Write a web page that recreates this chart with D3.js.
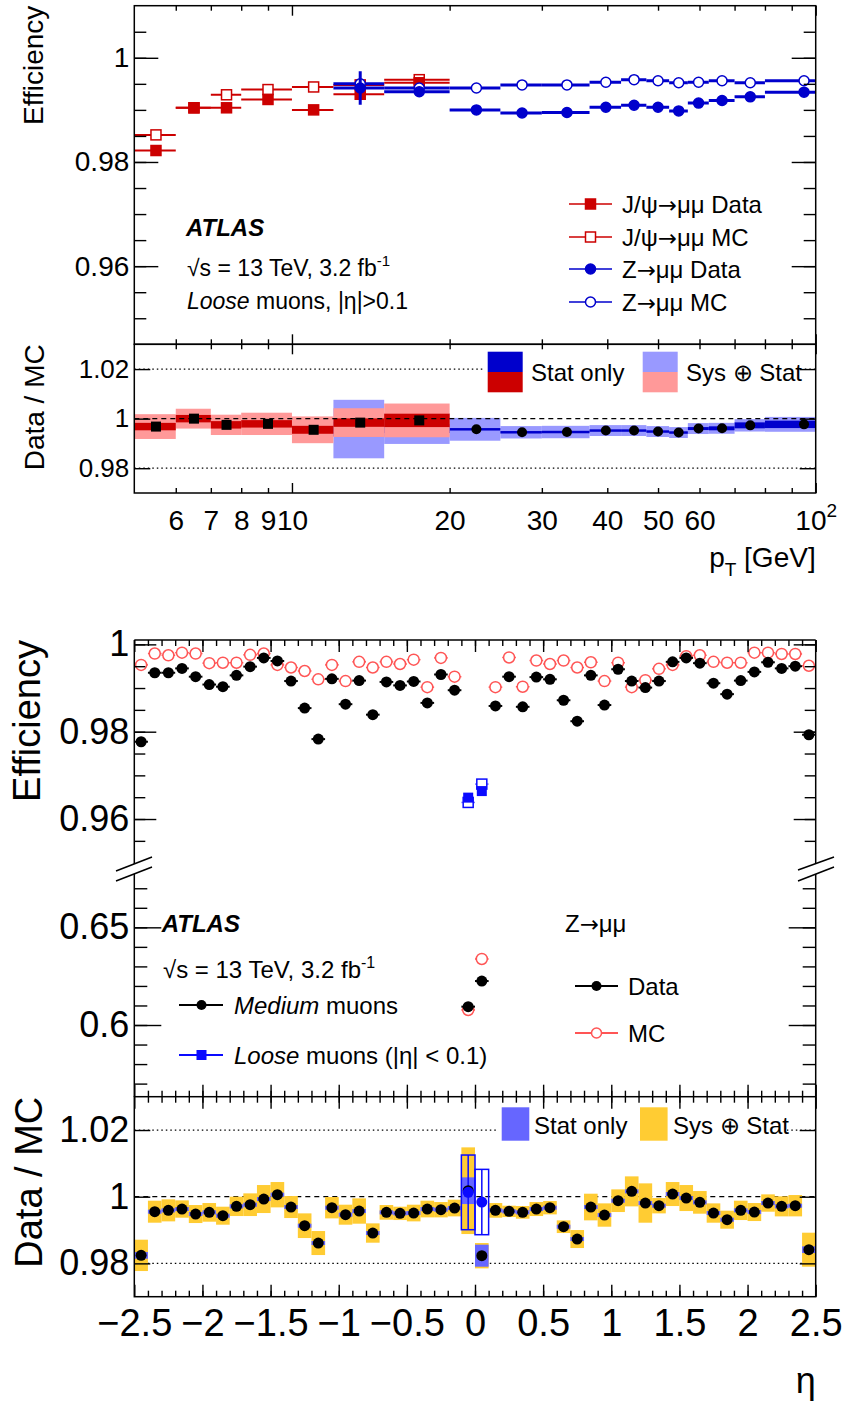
<!doctype html>
<html>
<head>
<meta charset="utf-8">
<script src="https://d3js.org/d3.v7.min.js"></script>
<style>
  body { margin: 0; background: #fff; }
  svg text { font-family: "Liberation Sans", Arial, Helvetica, sans-serif; fill: #000; }
</style>
</head>
<body>
<svg width="844" height="1407"></svg>
<script>
// ---------------- top figure: efficiency vs pT ----------------
var jpsiLo    = [5, 6, 7, 8, 10, 12, 15];
var jpsiHi    = [6, 7, 8, 10, 12, 15, 20];
var jpsiData  = [0.9822, 0.9904, 0.9904, 0.9920, 0.9900, 0.9930, 0.9952];
var jpsiDataE = [0.0004, 0.0004, 0.0004, 0.0003, 0.0004, 0.0006, 0.0004];
var jpsiMC    = [0.9852, 0.9904, 0.9929, 0.9939, 0.9944, 0.9948, 0.9958];
var jpsiRatio = [0.9968, 1.0000, 0.9975, 0.9979, 0.9955, 0.9984, 0.9993];
var jpsiStat  = [0.0015, 0.0015, 0.0015, 0.0015, 0.0016, 0.0017, 0.0027];
var jpsiSys   = [0.0050, 0.0040, 0.0041, 0.0045, 0.0054, 0.0058, 0.0068];

var zLo    = [12, 15, 20, 25, 30, 37, 42.5, 47.5, 52.5, 57, 62.5, 70, 80];
var zHi    = [15, 20, 25, 30, 37, 42.5, 47.5, 52.5, 57, 62.5, 70, 80, 110];
var zData  = [0.9942, 0.9935, 0.9900, 0.9894, 0.9895, 0.9905, 0.9909, 0.9905, 0.9898, 0.9913, 0.9918, 0.9925, 0.9934];
var zDataE = [0.0032, 0.0006, 0.0003, 0.0003, 0.0003, 0.0003, 0.0003, 0.0003, 0.0003, 0.0003, 0.0003, 0.0003, 0.0004];
var zMC    = [0.9950, 0.9942, 0.9942, 0.9948, 0.9948, 0.9953, 0.9958, 0.9956, 0.9952, 0.9953, 0.9956, 0.9952, 0.9956];
var zRatio = [0.9958, 0.9960, 0.9957, 0.9945, 0.9946, 0.9952, 0.9952, 0.9948, 0.9944, 0.9960, 0.9961, 0.9973, 0.9977];
var zStat  = [0.0030, 0.0018, 0.0005, 0.0005, 0.0005, 0.0005, 0.0005, 0.0005, 0.0005, 0.0006, 0.0008, 0.0012, 0.0015];
var zSys   = [0.0118, 0.0062, 0.0046, 0.0025, 0.0025, 0.0022, 0.0022, 0.0022, 0.0022, 0.0022, 0.0022, 0.0025, 0.0030];

var ptLabels      = [6, 7, 8, 9, 10, 20, 30, 40, 50, 60, 100];
var effTopLabels  = [0.96, 0.98, 1];
var ratioLabels   = [0.98, 1, 1.02];

// ---------------- bottom figure: efficiency vs eta ----------------
var etaBins = [-2.45, -2.35, -2.25, -2.15, -2.05, -1.95, -1.85, -1.75, -1.65, -1.55,
               -1.45, -1.35, -1.25, -1.15, -1.05, -0.95, -0.85, -0.75, -0.65, -0.55,
               -0.45, -0.35, -0.25, -0.15, -0.05, 0.05, 0.15, 0.25, 0.35, 0.45,
               0.55, 0.65, 0.75, 0.85, 0.95, 1.05, 1.15, 1.25, 1.35, 1.45,
               1.55, 1.65, 1.75, 1.85, 1.95, 2.05, 2.15, 2.25, 2.35, 2.45];
var medData = [0.9777, 0.9935, 0.9935, 0.9945, 0.9926, 0.9908, 0.9903, 0.9929, 0.9949, 0.9969,
               0.9962, 0.9916, 0.9854, 0.9783, 0.9921, 0.9863, 0.9917, 0.9839, 0.9914, 0.9906,
               0.9915, 0.9866, 0.9931, 0.9895, 0.6094, 0.6225, 0.9859, 0.9926, 0.9857, 0.9925,
               0.9920, 0.9872, 0.9824, 0.9929, 0.9861, 0.9943, 0.9916, 0.9901, 0.9916, 0.9960,
               0.9969, 0.9957, 0.9911, 0.9886, 0.9917, 0.9937, 0.9959, 0.9945, 0.9950, 0.9793];
var medMC   = [0.9953, 0.9979, 0.9975, 0.9981, 0.9979, 0.9957, 0.9958, 0.9958, 0.9976, 0.9979,
               0.9953, 0.9947, 0.9939, 0.9920, 0.9953, 0.9916, 0.9960, 0.9947, 0.9960, 0.9955,
               0.9965, 0.9902, 0.9969, 0.9926, 0.6077, 0.6338, 0.9902, 0.9970, 0.9903, 0.9963,
               0.9955, 0.9963, 0.9947, 0.9959, 0.9916, 0.9958, 0.9902, 0.9918, 0.9944, 0.9953,
               0.9973, 0.9975, 0.9960, 0.9958, 0.9958, 0.9981, 0.9981, 0.9978, 0.9978, 0.9951];
var medRatio = [0.9824, 0.9955, 0.9959, 0.9963, 0.9948, 0.9953, 0.9943, 0.9971, 0.9976, 0.9993,
                1.0006, 0.9969, 0.9913, 0.9861, 0.9967, 0.9946, 0.9957, 0.9891, 0.9953, 0.9950,
                0.9951, 0.9963, 0.9961, 0.9966, 1.0018, 0.9823, 0.9959, 0.9956, 0.9953, 0.9963,
                0.9967, 0.9910, 0.9873, 0.9969, 0.9945, 0.9988, 1.0016, 0.9981, 0.9973, 1.0008,
                0.9996, 0.9983, 0.9951, 0.9931, 0.9959, 0.9954, 0.9981, 0.9971, 0.9973, 0.9841];
var medSys  = [0.0047, 0.0033, 0.0033, 0.0026, 0.0027, 0.0028, 0.0027, 0.0029, 0.0034, 0.0042,
               0.0038, 0.0033, 0.0037, 0.0036, 0.0032, 0.0030, 0.0038, 0.0029, 0.0022, 0.0020,
               0.0025, 0.0025, 0.0023, 0.0025, 0.0130, 0.0038, 0.0022, 0.0017, 0.0019, 0.0021,
               0.0020, 0.0019, 0.0027, 0.0040, 0.0035, 0.0034, 0.0045, 0.0059, 0.0023, 0.0036,
               0.0039, 0.0034, 0.0029, 0.0027, 0.0029, 0.0027, 0.0026, 0.0030, 0.0032, 0.0051];
var medStat = [0.0010, 0.0006, 0.0006, 0.0006, 0.0006, 0.0006, 0.0006, 0.0006, 0.0006, 0.0006,
               0.0006, 0.0006, 0.0006, 0.0006, 0.0006, 0.0006, 0.0006, 0.0006, 0.0006, 0.0006,
               0.0006, 0.0006, 0.0006, 0.0006, 0.0040, 0.0033, 0.0006, 0.0006, 0.0006, 0.0006,
               0.0006, 0.0006, 0.0006, 0.0006, 0.0006, 0.0006, 0.0006, 0.0006, 0.0006, 0.0006,
               0.0006, 0.0006, 0.0006, 0.0006, 0.0006, 0.0006, 0.0006, 0.0006, 0.0006, 0.0010];

var looseEta   = [-0.05, 0.05];
var looseData  = [0.9649, 0.9664];
var looseMC    = [0.9638, 0.9680];
var looseRatio = [1.0013, 0.9984];
var looseSys   = [0.0112, 0.0098];

var etaLabels    = [-2.5, -2, -1.5, -1, -0.5, 0, 0.5, 1, 1.5, 2, 2.5];
var effUpLabels  = [0.96, 0.98, 1];
var effLowLabels = [0.6, 0.65];

// ---------------------------------------------------------------
var svg = d3.select("svg");
var L = 134.3, R = 815.7;
var fmt = d3.format("~g");

function ticks(axisFn, scale, vals, len, tx, ty) {
    svg.append("g")
       .attr("transform", "translate(" + tx + "," + ty + ")")
       .call(axisFn(scale).tickValues(vals).tickSize(-len).tickFormat(""))
       .call(function(g) { g.select(".domain").remove(); })
       .selectAll("line").attr("stroke", "#000").attr("stroke-width", 1.4);
}
function labels(axisFn, scale, vals, size, pad, tx, ty, f) {
    var g = svg.append("g")
       .attr("transform", "translate(" + tx + "," + ty + ")")
       .call(axisFn(scale).tickValues(vals).tickSize(0).tickPadding(pad).tickFormat(f || fmt));
    g.select(".domain").remove();
    g.attr("font-size", size);
    return g;
}
function hline(g, x1, x2, y, color, w, dash) {
    g.append("line").attr("x1", x1).attr("x2", x2).attr("y1", y).attr("y2", y)
     .attr("stroke", color).attr("stroke-width", w).attr("stroke-dasharray", dash || null);
}
function vline(g, x, y1, y2, color, w) {
    g.append("line").attr("x1", x).attr("x2", x).attr("y1", y1).attr("y2", y2)
     .attr("stroke", color).attr("stroke-width", w);
}
// text like "J/ψ→μμ Data": the arrow comes from DejaVu, which draws it long like TLatex
function arrowText(t, before, after) {
    t.append("tspan").text(before);
    t.append("tspan").attr("font-family", "DejaVu Sans").attr("font-size", "0.95em").text("\u2192");
    t.append("tspan").text(after);
}

var defs = svg.append("defs");
function clip(id, x, y, w, h) {
    defs.append("clipPath").attr("id", id).append("rect")
        .attr("x", x).attr("y", y).attr("width", w).attr("height", h);
    return svg.append("g").attr("clip-path", "url(#" + id + ")");
}

// ================= TOP FIGURE =================
var xPt  = d3.scaleLog().domain([5, 100]).range([L, R]);
var yEff = d3.scaleLinear().domain([0.945, 1.01]).range([344.3, 5.7]);
var yRat = d3.scaleLinear().domain([0.97, 1.03]).range([493, 344.3]);

var jRed = "#cc0000", zBlue = "#0000cc";
var jMid = jpsiLo.map(function(d, i) { return (d + jpsiHi[i]) / 2; });
var zMid = zLo.map(function(d, i) { return (d + zHi[i]) / 2; });

// main pad
var gMain = clip("clipMain", L, 5.7, R - L, 338.6);

function pointsPt(g, lo, hi, mid, vals, errs, color, w, shape, filled, ys) {
    vals.forEach(function(v, i) {
        hline(g, xPt(lo[i]), xPt(hi[i]), ys(v), color, w);
        if (errs) vline(g, xPt(mid[i]), ys(v + errs[i]), ys(v - errs[i]), color, w);
    });
    if (shape === "square") {
        g.selectAll(null).data(vals).enter().append("rect")
         .attr("x", function(d, i) { return xPt(mid[i]) - 5; })
         .attr("y", function(d) { return ys(d) - 5; })
         .attr("width", 10).attr("height", 10)
         .attr("fill", filled ? color : "#fff")
         .attr("stroke", color).attr("stroke-width", 1.5);
    } else {
        g.selectAll(null).data(vals).enter().append("circle")
         .attr("cx", function(d, i) { return xPt(mid[i]); })
         .attr("cy", function(d) { return ys(d); })
         .attr("r", 5)
         .attr("fill", filled ? color : "#fff")
         .attr("stroke", color).attr("stroke-width", 1.5);
    }
}
pointsPt(gMain, jpsiLo, jpsiHi, jMid, jpsiMC, null, jRed, 2, "square", false, yEff);
pointsPt(gMain, jpsiLo, jpsiHi, jMid, jpsiData, jpsiDataE, jRed, 2, "square", true, yEff);
pointsPt(gMain, zLo, zHi, zMid, zMC, null, zBlue, 3, "circle", false, yEff);
pointsPt(gMain, zLo, zHi, zMid, zData, zDataE, zBlue, 3, "circle", true, yEff);

// ratio pad
var gRat = clip("clipRat", L, 344.3, R - L, 148.7);
[0.98, 1.02].forEach(function(v) { hline(gRat, L, R, yRat(v), "#000", 1.2, "1.5,3"); });

function bands(g, lo, hi, r, e, color) {
    g.selectAll(null).data(r).enter().append("rect")
     .attr("x", function(d, i) { return xPt(lo[i]); })
     .attr("width", function(d, i) { return xPt(hi[i]) - xPt(lo[i]); })
     .attr("y", function(d, i) { return yRat(d + e[i]); })
     .attr("height", function(d, i) { return yRat(d - e[i]) - yRat(d + e[i]); })
     .attr("fill", color);
}
bands(gRat, zLo, zHi, zRatio, zSys, "#9999ff");
bands(gRat, zLo, zHi, zRatio, zStat, "#0000cc");
gRat.selectAll(null).data(zRatio).enter().append("circle")
    .attr("cx", function(d, i) { return xPt(zMid[i]); })
    .attr("cy", function(d) { return yRat(d); })
    .attr("r", 5).attr("fill", "#000");
bands(gRat, jpsiLo, jpsiHi, jpsiRatio, jpsiSys, "#ff9999");
bands(gRat, jpsiLo, jpsiHi, jpsiRatio, jpsiStat, "#cc0000");
hline(gRat, L, R, yRat(1), "#000", 1.2, "5,4");
gRat.selectAll(null).data(jpsiRatio).enter().append("rect")
    .attr("x", function(d, i) { return xPt(jMid[i]) - 5; })
    .attr("y", function(d) { return yRat(d) - 5; })
    .attr("width", 10).attr("height", 10).attr("fill", "#000");

// ratio legend
var lg = svg.append("g");
lg.append("rect").attr("x", 484).attr("y", 346).attr("width", 320).attr("height", 48).attr("fill", "#fff");
lg.append("rect").attr("x", 487.7).attr("y", 351.7).attr("width", 35).attr("height", 20.3).attr("fill", "#0000cc");
lg.append("rect").attr("x", 487.7).attr("y", 372).attr("width", 35).attr("height", 20.3).attr("fill", "#cc0000");
lg.append("text").attr("x", 531).attr("y", 381).attr("font-size", 24).text("Stat only");
lg.append("rect").attr("x", 642.7).attr("y", 351.7).attr("width", 35).attr("height", 20.3).attr("fill", "#9999ff");
lg.append("rect").attr("x", 642.7).attr("y", 372).attr("width", 35).attr("height", 20.3).attr("fill", "#ff9999");
lg.append("text").attr("x", 686).attr("y", 381).attr("font-size", 24).text("Sys \u2295 Stat");

// frames and ticks (top figure)
svg.append("rect").attr("x", L).attr("y", 5.7).attr("width", R - L).attr("height", 338.6)
   .attr("fill", "none").attr("stroke", "#000").attr("stroke-width", 1.5);
svg.append("rect").attr("x", L).attr("y", 344.3).attr("width", R - L).attr("height", 148.7)
   .attr("fill", "none").attr("stroke", "#000").attr("stroke-width", 1.5);

var effMinor = d3.range(0.95, 1.0076, 0.005);
ticks(d3.axisLeft, yEff, effMinor, 12, L, 0);
ticks(d3.axisRight, yEff, effMinor, 12, R, 0);
ticks(d3.axisLeft, yEff, effTopLabels, 24, L, 0);
ticks(d3.axisRight, yEff, effTopLabels, 24, R, 0);
ticks(d3.axisLeft, yRat, ratioLabels, 16, L, 0);
ticks(d3.axisRight, yRat, ratioLabels, 16, R, 0);

var ptMinor = [6, 7, 8, 9, 20, 30, 40, 50, 60, 70, 80, 90];
[[d3.axisTop, 5.7], [d3.axisBottom, 344.3], [d3.axisTop, 344.3], [d3.axisBottom, 493]].forEach(function(a) {
    ticks(a[0], xPt, ptMinor, 5, 0, a[1]);
    ticks(a[0], xPt, [10, 100], 10, 0, a[1]);
});

labels(d3.axisLeft, yEff, effTopLabels, 28, 5, L, 0);
labels(d3.axisLeft, yRat, ratioLabels, 26, 5, L, 0);
var ptLab = labels(d3.axisBottom, xPt, ptLabels, 28, 17, 0, 493);
ptLab.selectAll("text").filter(function(d) { return d === 100; })
     .text("10").append("tspan").attr("dy", "-0.7em").attr("font-size", "0.68em").text("2");

svg.append("text").attr("transform", "translate(43,5.7) rotate(-90)")
   .attr("text-anchor", "end").attr("font-size", 28).text("Efficiency");
svg.append("text").attr("transform", "translate(44,344.3) rotate(-90)")
   .attr("text-anchor", "end").attr("font-size", 28).text("Data / MC");
var ptT = svg.append("text").attr("x", R).attr("y", 567).attr("text-anchor", "end").attr("font-size", 28);
ptT.append("tspan").text("p");
ptT.append("tspan").attr("dy", 9).attr("font-size", 19).text("T");
ptT.append("tspan").attr("dy", -9).text(" [GeV]");

// top texts
svg.append("text").attr("x", 186).attr("y", 236).attr("font-size", 24)
   .attr("font-weight", "bold").attr("font-style", "italic").text("ATLAS");
var s1 = svg.append("text").attr("x", 187).attr("y", 276).attr("font-size", 23);
s1.append("tspan").text("\u221As = 13 TeV, 3.2 fb");
s1.append("tspan").attr("dy", -10).attr("font-size", 15).text("-1");
var s2 = svg.append("text").attr("x", 187).attr("y", 309).attr("font-size", 23);
s2.append("tspan").attr("font-style", "italic").text("Loose");
s2.append("tspan").text(" muons, |\u03B7|>0.1");

// top legend
var legRows = [
    { y: 204, color: jRed, shape: "square", filled: true,  pre: "J/\u03C8", post: "\u03BC\u03BC Data" },
    { y: 237, color: jRed, shape: "square", filled: false, pre: "J/\u03C8", post: "\u03BC\u03BC MC" },
    { y: 269, color: zBlue, shape: "circle", filled: true,  pre: "Z", post: "\u03BC\u03BC Data" },
    { y: 302, color: zBlue, shape: "circle", filled: false, pre: "Z", post: "\u03BC\u03BC MC" }
];
legRows.forEach(function(r) {
    hline(svg, 569, 612, r.y, r.color, 1.5);
    if (r.shape === "square") {
        svg.append("rect").attr("x", 585.5).attr("y", r.y - 5).attr("width", 10).attr("height", 10)
           .attr("fill", r.filled ? r.color : "#fff").attr("stroke", r.color).attr("stroke-width", 1.5);
    } else {
        svg.append("circle").attr("cx", 590.5).attr("cy", r.y).attr("r", 5)
           .attr("fill", r.filled ? r.color : "#fff").attr("stroke", r.color).attr("stroke-width", 1.5);
    }
    arrowText(svg.append("text").attr("x", 622).attr("y", r.y + 9).attr("font-size", 24), r.pre, r.post);
});

// ================= BOTTOM FIGURE =================
var xEta  = d3.scaleLinear().domain([-2.5, 2.5]).range([L, R]);
var yUp   = d3.scaleLinear().domain([0.9497, 1.001]).range([864, 640]);
var yLow  = d3.scaleLinear().domain([0.5633, 0.6773]).range([1096.7, 874]);
var yRatB = d3.scaleLinear().domain([0.97, 1.03]).range([1296.7, 1096.7]);
function yE(v) { return v > 0.8 ? yUp(v) : yLow(v); }

var mcRed = "#ff5555", looseBlue = "#0a0aff";
var bw = 0.05;

var gEff = svg.append("g");
// MC (open red circles)
medMC.forEach(function(v, i) {
    hline(gEff, xEta(etaBins[i] - bw), xEta(etaBins[i] + bw), yE(v), mcRed, 1.5);
});
gEff.selectAll(null).data(medMC).enter().append("circle")
    .attr("cx", function(d, i) { return xEta(etaBins[i]); })
    .attr("cy", function(d) { return yE(d); })
    .attr("r", 5.5).attr("fill", "#fff").attr("stroke", mcRed).attr("stroke-width", 1.5);
// data (black)
medData.forEach(function(v, i) {
    hline(gEff, xEta(etaBins[i] - bw), xEta(etaBins[i] + bw), yE(v), "#000", 2);
});
gEff.selectAll(null).data(medData).enter().append("circle")
    .attr("cx", function(d, i) { return xEta(etaBins[i]); })
    .attr("cy", function(d) { return yE(d); })
    .attr("r", 5.5).attr("fill", "#000");
// loose (blue squares)
looseMC.forEach(function(v, i) {
    hline(gEff, xEta(looseEta[i] - bw), xEta(looseEta[i] + bw), yUp(v), "#7777ff", 1.5);
});
gEff.selectAll(null).data(looseMC).enter().append("rect")
    .attr("x", function(d, i) { return xEta(looseEta[i]) - 5; })
    .attr("y", function(d) { return yUp(d) - 5; })
    .attr("width", 10).attr("height", 10)
    .attr("fill", "#fff").attr("stroke", looseBlue).attr("stroke-width", 1.5);
gEff.selectAll(null).data(looseData).enter().append("rect")
    .attr("x", function(d, i) { return xEta(looseEta[i]) - 5; })
    .attr("y", function(d) { return yUp(d) - 5; })
    .attr("width", 10).attr("height", 10).attr("fill", looseBlue);

// ratio pad
var gRB = svg.append("g");
[0.98, 1.02].forEach(function(v) { hline(gRB, L, R, yRatB(v), "#000", 1.2, "1.5,3"); });
hline(gRB, L, R, yRatB(1), "#000", 1.2, "5,4");
function etaBoxes(g, eta, r, e, fill, stroke) {
    g.selectAll(null).data(r).enter().append("rect")
     .attr("x", function(d, i) { return xEta(eta[i] - bw); })
     .attr("width", function(d, i) { return xEta(eta[i] + bw) - xEta(eta[i] - bw); })
     .attr("y", function(d, i) { return yRatB(d + e[i]); })
     .attr("height", function(d, i) { return yRatB(d - e[i]) - yRatB(d + e[i]); })
     .attr("fill", fill).attr("stroke", stroke || "none").attr("stroke-width", 1.5);
}
etaBoxes(gRB, etaBins, medRatio, medSys, "#ffcc33");
etaBoxes(gRB, etaBins, medRatio, medStat, "#6666ff");
etaBoxes(gRB, looseEta, looseRatio, looseSys, "none", looseBlue);
looseRatio.forEach(function(v, i) {
    vline(gRB, xEta(looseEta[i]), yRatB(v + looseSys[i]), yRatB(v - looseSys[i]), looseBlue, 1.5);
});
gRB.selectAll(null).data(medRatio).enter().append("circle")
   .attr("cx", function(d, i) { return xEta(etaBins[i]); })
   .attr("cy", function(d) { return yRatB(d); })
   .attr("r", 5.5).attr("fill", "#000");
gRB.selectAll(null).data(looseRatio).enter().append("circle")
   .attr("cx", function(d, i) { return xEta(looseEta[i]); })
   .attr("cy", function(d) { return yRatB(d); })
   .attr("r", 5.5).attr("fill", looseBlue);

// ratio legend
var lg2 = svg.append("g");
lg2.append("rect").attr("x", 497).attr("y", 1099).attr("width", 290).attr("height", 44).attr("fill", "#fff");
lg2.append("rect").attr("x", 501.7).attr("y", 1107.3).attr("width", 27.6).attr("height", 33.4).attr("fill", "#6666ff");
lg2.append("text").attr("x", 534).attr("y", 1134).attr("font-size", 24).text("Stat only");
lg2.append("rect").attr("x", 640).attr("y", 1107.3).attr("width", 27.6).attr("height", 33.4).attr("fill", "#ffcc33");
lg2.append("text").attr("x", 673).attr("y", 1134).attr("font-size", 24).text("Sys \u2295 Stat");

// frame pieces
var fr = svg.append("g").attr("stroke", "#000").attr("stroke-width", 1.5).attr("fill", "none");
hline(fr, L, R, 640, "#000", 1.5);
vline(fr, L, 640, 864, "#000", 1.5);
vline(fr, R, 640, 864, "#000", 1.5);
vline(fr, L, 874, 1096.7, "#000", 1.5);
vline(fr, R, 874, 1096.7, "#000", 1.5);
fr.append("rect").attr("x", L).attr("y", 1096.7).attr("width", R - L).attr("height", 200);
// axis break marks
[[116, 871, 152, 857], [116, 881, 152, 867], [798, 870, 834, 857], [798, 881, 834, 867]].forEach(function(b) {
    fr.append("line").attr("x1", b[0]).attr("y1", b[1]).attr("x2", b[2]).attr("y2", b[3]);
});

// ticks (bottom figure)
var upMinor = d3.range(0.955, 1.0001, 0.005);
ticks(d3.axisLeft, yUp, upMinor, 11, L, 0);
ticks(d3.axisRight, yUp, upMinor, 11, R, 0);
ticks(d3.axisLeft, yUp, effUpLabels, 22, L, 0);
ticks(d3.axisRight, yUp, effUpLabels, 22, R, 0);
var lowMinor = d3.range(0.57, 0.6751, 0.01);
ticks(d3.axisLeft, yLow, lowMinor, 13, L, 0);
ticks(d3.axisRight, yLow, lowMinor, 13, R, 0);
ticks(d3.axisLeft, yLow, effLowLabels, 27, L, 0);
ticks(d3.axisRight, yLow, effLowLabels, 27, R, 0);
ticks(d3.axisLeft, yRatB, ratioLabels, 16, L, 0);
ticks(d3.axisRight, yRatB, ratioLabels, 16, R, 0);

var etaMinor = d3.range(-2.4, 2.41, 0.1);
[[d3.axisTop, 640], [d3.axisBottom, 1096.7], [d3.axisTop, 1096.7], [d3.axisBottom, 1296.7]].forEach(function(a) {
    ticks(a[0], xEta, etaMinor, 6, 0, a[1]);
    ticks(a[0], xEta, etaLabels, 12, 0, a[1]);
});

labels(d3.axisLeft, yUp, effUpLabels, 36, 5, L, 0);
labels(d3.axisLeft, yLow, effLowLabels, 36, 5, L, 0);
labels(d3.axisLeft, yRatB, ratioLabels, 36, 5, L, 0);
labels(d3.axisBottom, xEta, etaLabels, 38, 12, 0, 1296.7);

svg.append("text").attr("transform", "translate(40,640) rotate(-90)")
   .attr("text-anchor", "end").attr("font-size", 38).text("Efficiency");
svg.append("text").attr("transform", "translate(42,1096.7) rotate(-90)")
   .attr("text-anchor", "end").attr("font-size", 38).text("Data / MC");
svg.append("text").attr("x", R).attr("y", 1393).attr("text-anchor", "end").attr("font-size", 36).text("\u03B7");

// bottom texts and legend
svg.append("text").attr("x", 161.7).attr("y", 932).attr("font-size", 24)
   .attr("font-weight", "bold").attr("font-style", "italic").text("ATLAS");
var s3 = svg.append("text").attr("x", 163).attr("y", 978).attr("font-size", 24);
s3.append("tspan").text("\u221As = 13 TeV, 3.2 fb");
s3.append("tspan").attr("dy", -10).attr("font-size", 16).text("-1");
arrowText(svg.append("text").attr("x", 565).attr("y", 932).attr("font-size", 24), "Z", "\u03BC\u03BC");

hline(svg, 179, 223, 1005, "#000", 2);
svg.append("circle").attr("cx", 201.5).attr("cy", 1005).attr("r", 5).attr("fill", "#000");
var t1 = svg.append("text").attr("x", 234).attr("y", 1014).attr("font-size", 24);
t1.append("tspan").attr("font-style", "italic").text("Medium");
t1.append("tspan").text(" muons");

hline(svg, 179, 223, 1055, looseBlue, 2);
svg.append("rect").attr("x", 196.5).attr("y", 1050).attr("width", 10).attr("height", 10).attr("fill", looseBlue);
var t2 = svg.append("text").attr("x", 234).attr("y", 1064).attr("font-size", 24);
t2.append("tspan").attr("font-style", "italic").text("Loose");
t2.append("tspan").text(" muons (|\u03B7| < 0.1)");

hline(svg, 575, 618, 986, "#000", 2);
svg.append("circle").attr("cx", 596.5).attr("cy", 986).attr("r", 5).attr("fill", "#000");
svg.append("text").attr("x", 628).attr("y", 995).attr("font-size", 24).text("Data");
hline(svg, 575, 618, 1033, mcRed, 2);
svg.append("circle").attr("cx", 596.5).attr("cy", 1033).attr("r", 5).attr("fill", "#fff")
   .attr("stroke", mcRed).attr("stroke-width", 1.5);
svg.append("text").attr("x", 628).attr("y", 1042).attr("font-size", 24).text("MC");
</script>
</body>
</html>
